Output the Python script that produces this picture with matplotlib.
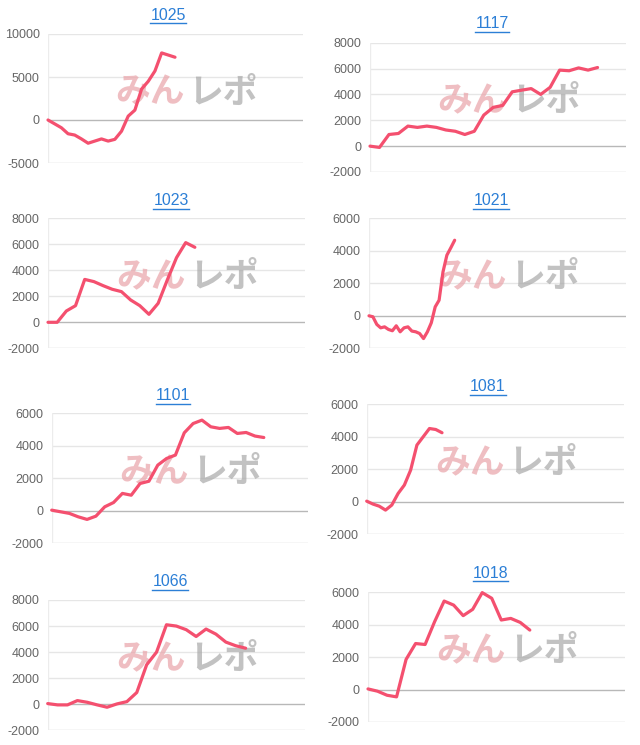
import matplotlib
matplotlib.use("Agg")
import matplotlib.pyplot as plt
from matplotlib.lines import Line2D

# ---- data ----
titles = ["1025", "1117", "1023", "1021", "1101", "1081", "1066", "1018"]

v1025 = [0, -450, -900, -1600, -1750, -2200, -2700, -2450, -2200, -2450,
         -2250, -1300, 450, 1150, 3600, 4500, 5700, 7800, 7550, 7300]
v1117 = [0, -100, 900, 980, 1550, 1450, 1550, 1450, 1250, 1150, 900, 1150,
         2400, 3000, 3150, 4200, 4330, 4450, 4000, 4550, 5880, 5830, 6050,
         5880, 6080]
v1023 = [0, 0, 870, 1280, 3300, 3130, 2820, 2540, 2360, 1720, 1280, 615,
         1460, 3260, 4970, 6130, 5770]
v1021 = [0, -60, -530, -740, -680, -840, -920, -615, -985, -740, -680,
         -940, -985, -1090, -1400, -985, -430, 550, 960, 2700, 3730, 4180, 4650]
v1101 = [40, -60, -160, -370, -530, -330, 245, 510, 1070, 960, 1680, 1820,
         2810, 3220, 3430, 4800, 5370, 5580, 5170, 5070, 5130, 4760, 4820,
         4600, 4510]
v1081 = [40, -140, -270, -510, -200, 510, 1030, 1950, 3490, 4000, 4510,
         4450, 4250]
v1066 = [50, -50, -50, 280, 150, -50, -230, 25, 200, 900, 3030, 4000, 6100,
         6000, 5720, 5200, 5770, 5380, 4770, 4490, 4300]
v1018 = [40, -100, -350, -450, 1860, 2840, 2780, 4190, 5460, 5210, 4560,
         4950, 5980, 5630, 4290, 4390, 4140, 3670]

series = [v1025, v1117, v1023, v1021, v1101, v1081, v1066, v1018]
# total x-axis span (in data points) of each panel
x_span = [38.15, 27.0, 28.0, 66.0, 29.0, 41.0, 26.0, 27.0]
y_ticks = [[-5000, 0, 5000, 10000],
           [-2000, 0, 2000, 4000, 6000, 8000],
           [-2000, 0, 2000, 4000, 6000, 8000],
           [-2000, 0, 2000, 4000, 6000],
           [-2000, 0, 2000, 4000, 6000],
           [-2000, 0, 2000, 4000, 6000],
           [-2000, 0, 2000, 4000, 6000, 8000],
           [-2000, 0, 2000, 4000, 6000]]

# ---- layout (pixels, top-origin): left, right, top, bottom, title_x, title_y ----
W, H = 640, 745
boxes = [(48, 303, 34, 163, 168, 15),
         (370, 626, 42.7, 172, 492, 24),
         (48, 305, 218.3, 348.3, 171, 200.5),
         (369, 626, 218.3, 348.3, 491, 200.5),
         (51.7, 308, 413.3, 543.3, 173, 395.5),
         (366.7, 624, 404.3, 534.3, 488, 386.5),
         (47.7, 305, 600, 730.3, 170, 581.5),
         (368, 625, 592.3, 722, 490.5, 573)]

plt.rcParams['font.family'] = ['Liberation Sans', 'DejaVu Sans']

fig = plt.figure(figsize=(W / 100, H / 100), dpi=100)
fig.patch.set_facecolor("white")

line_color = "#f4506f"
title_color = "#2c7fd6"
titles_txt = []

for i in range(8):
    l, r, t, b, tx, ty = boxes[i]
    ax = fig.add_axes([l / W, 1 - b / H, (r - l) / W, (b - t) / H])
    ax.set_facecolor("none")
    yt = y_ticks[i]
    ax.set_ylim(yt[0], yt[-1])
    ax.set_xlim(0, x_span[i])
    for yv in yt:
        c = "#b8b8b8" if yv == 0 else "#e6e6e6"
        if yv == yt[0]:
            c = "#d6d6d6"
        ax.axhline(yv, color=c, lw=1.0, zorder=1)
    ax.axvline(0, color="#ececec", lw=1.0, zorder=1)
    for s in ax.spines.values():
        s.set_visible(False)
    ax.set_yticks(yt)
    ax.set_yticklabels([str(v) for v in yt])
    ax.tick_params(axis='y', length=0, pad=6, labelsize=9, labelcolor="#666666")
    ax.set_xticks([])

    # watermark
    ax.text(0.535, 0.55, "みん", transform=ax.transAxes, ha="right", va="center",
            fontsize=25, fontweight="bold", color="#e9a3a9", alpha=0.7,
            family=["Noto Sans CJK JP"], zorder=2)
    ax.text(0.55, 0.55, "レポ", transform=ax.transAxes, ha="left", va="center",
            fontsize=25, fontweight="bold", color="#a8a8a8", alpha=0.7,
            family=["Noto Sans CJK JP"], zorder=2)

    vals = series[i]
    ax.plot(range(len(vals)), vals, color=line_color, lw=2.3, zorder=3,
            solid_joinstyle="round", solid_capstyle="round", clip_on=False)

    tt = fig.text(tx / W, 1 - ty / H, titles[i], ha="center", va="center",
                  fontsize=11.5, color=title_color)
    titles_txt.append(tt)

# underline titles
fig.canvas.draw()
renderer = fig.canvas.get_renderer()
for tt in titles_txt:
    bb = tt.get_window_extent(renderer)
    y = bb.y0 - 0.5
    fig.add_artist(Line2D([bb.x0 / W, bb.x1 / W], [y / H, y / H],
                          transform=fig.transFigure, color=title_color, lw=1.0))

fig.savefig("out.png", dpi=100, facecolor="white")
